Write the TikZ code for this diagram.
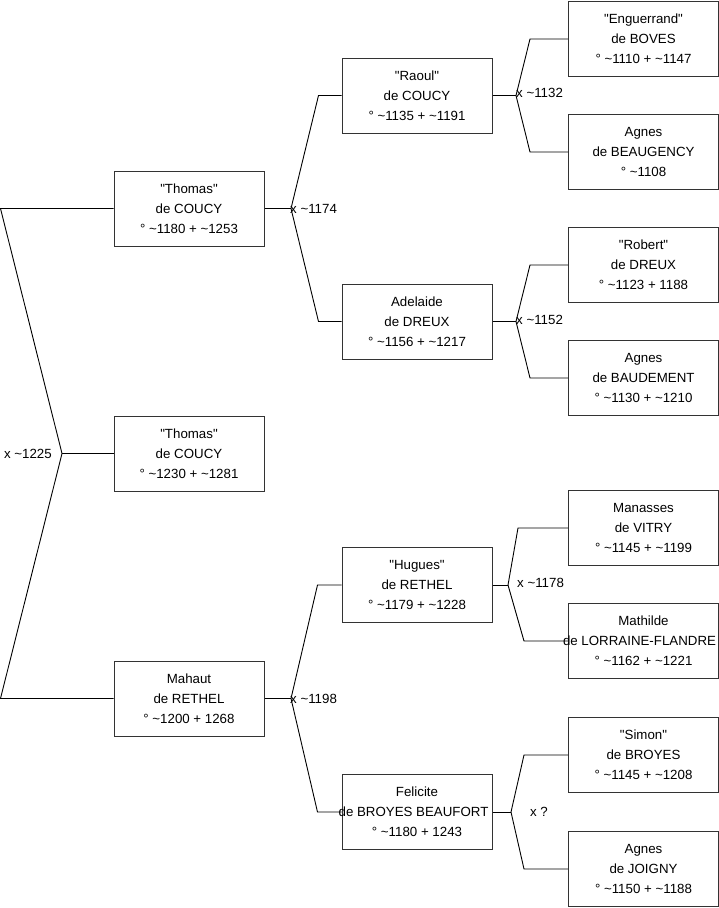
\documentclass[tikz,border=0pt]{standalone}
\usepackage{fontspec}
\setmainfont{Liberation Sans}
\usepackage{tikz}
\usetikzlibrary{positioning}

\begin{document}
\begin{tikzpicture}[x=1pt, y=-1pt,
  person/.style={draw=black!80, line width=1pt, fill=white, minimum width=150pt,
                 minimum height=75pt, align=center, inner sep=0pt,
                 font=\fontsize{13.3}{20}\selectfont},
  wed/.style={inner sep=0pt, font=\fontsize{13.3}{20}\selectfont},
  link/.style={line width=0.9pt}]
\useasboundingbox (0,0) rectangle (719,908);
% generation 1
\node[person] (thomasA) at (189,208.5) {\textquotedbl Thomas\textquotedbl\\ de COUCY\\ ° \textasciitilde1180 + \textasciitilde1253};
\node[person] (thomas)  at (189,453.5) {\textquotedbl Thomas\textquotedbl\\ de COUCY\\ ° \textasciitilde1230 + \textasciitilde1281};
\node[person] (mahaut)  at (189,698.5) {Mahaut\\ de RETHEL\\ ° \textasciitilde1200 + 1268};
% generation 2
\node[person] (raoul)    at (417,95.5)  {\textquotedbl Raoul\textquotedbl\\ de COUCY\\ ° \textasciitilde1135 + \textasciitilde1191};
\node[person] (adelaide) at (417,321.5) {Adelaide\\ de DREUX\\ ° \textasciitilde1156 + \textasciitilde1217};
\node[person] (hugues)   at (417,585)   {\textquotedbl Hugues\textquotedbl\\ de RETHEL\\ ° \textasciitilde1179 + \textasciitilde1228};
\node[person] (felicite) at (417,812)   {Felicite\\ \makebox[0pt]{de BROYES BEAUFORT\hspace{7pt}}\\ ° \textasciitilde1180 + 1243};
% generation 3
\node[person] (enguerrand) at (643.5,39)  {\textquotedbl Enguerrand\textquotedbl\\ de BOVES\\ ° \textasciitilde1110 + \textasciitilde1147};
\node[person] (agnesBe)    at (643.5,152) {Agnes\\ de BEAUGENCY\\ ° \textasciitilde1108};
\node[person] (robert)     at (643.5,265) {\textquotedbl Robert\textquotedbl\\ de DREUX\\ ° \textasciitilde1123 + 1188};
\node[person] (agnesBa)    at (643.5,378) {Agnes\\ de BAUDEMENT\\ ° \textasciitilde1130 + \textasciitilde1210};
\node[person] (manasses)   at (643.5,528) {Manasses\\ de VITRY\\ ° \textasciitilde1145 + \textasciitilde1199};
\node[person] (mathilde)   at (643.5,641) {Mathilde\\ \makebox[0pt]{de LORRAINE-FLANDRE\hspace{8pt}}\\ ° \textasciitilde1162 + \textasciitilde1221};
\node[person] (simon)      at (643.5,755) {\textquotedbl Simon\textquotedbl\\ de BROYES\\ ° \textasciitilde1145 + \textasciitilde1208};
\node[person] (agnesJ)     at (643.5,869) {Agnes\\ de JOIGNY\\ ° \textasciitilde1150 + \textasciitilde1188};
% marriages
\coordinate (m0) at (62,453.5);
\coordinate (m1) at (291,208.5);
\coordinate (m2) at (291,698.5);
\coordinate (m3) at (516,95.5);
\coordinate (m4) at (516,321.5);
\coordinate (m5) at (508,585);
\coordinate (m6) at (511,812);
\node[wed, anchor=east] (w0) at (52,453.5) {x \textasciitilde1225};
\node[wed, anchor=west] (w1) at (290,208.5) {x \textasciitilde1174};
\node[wed, anchor=west] (w2) at (290,698.5) {x \textasciitilde1198};
\node[wed, anchor=west] (w3) at (516,93) {x \textasciitilde1132};
\node[wed, anchor=west] (w4) at (516,320) {x \textasciitilde1152};
\node[wed, anchor=west] (w5) at (517,583) {x \textasciitilde1178};
\node[wed] (w6) at (539,812) {x ?};
% links
\draw[link] (thomas.west) -- (m0);
\draw[link] (m0) -- ([xshift=-113pt]thomasA.west) -- (thomasA.west);
\draw[link] (m0) -- ([xshift=-113pt]mahaut.west) -- (mahaut.west);
\draw[link] (thomasA.east) -- (m1);
\draw[link] (m1) -- ([xshift=-23pt]raoul.west) -- (raoul.west);
\draw[link] (m1) -- ([xshift=-23pt]adelaide.west) -- (adelaide.west);
\draw[link] (mahaut.east) -- (m2);
\draw[link] (m2) -- ([xshift=-24pt]hugues.west) -- (hugues.west);
\draw[link] (m2) -- ([xshift=-24pt]felicite.west) -- (felicite.west);
\draw[link] (raoul.east) -- (m3);
\draw[link] (m3) -- ([xshift=-38pt]enguerrand.west) -- (enguerrand.west);
\draw[link] (m3) -- ([xshift=-38pt]agnesBe.west) -- (agnesBe.west);
\draw[link] (adelaide.east) -- (m4);
\draw[link] (m4) -- ([xshift=-38pt]robert.west) -- (robert.west);
\draw[link] (m4) -- ([xshift=-38pt]agnesBa.west) -- (agnesBa.west);
\draw[link] (hugues.east) -- (m5);
\draw[link] (m5) -- ([xshift=-50pt]manasses.west) -- (manasses.west);
\draw[link] (m5) -- ([xshift=-44pt]mathilde.west) -- (mathilde.west);
\draw[link] (felicite.east) -- (m6);
\draw[link] (m6) -- ([xshift=-44pt]simon.west) -- (simon.west);
\draw[link] (m6) -- ([xshift=-44pt]agnesJ.west) -- (agnesJ.west);
\end{tikzpicture}
\end{document}
